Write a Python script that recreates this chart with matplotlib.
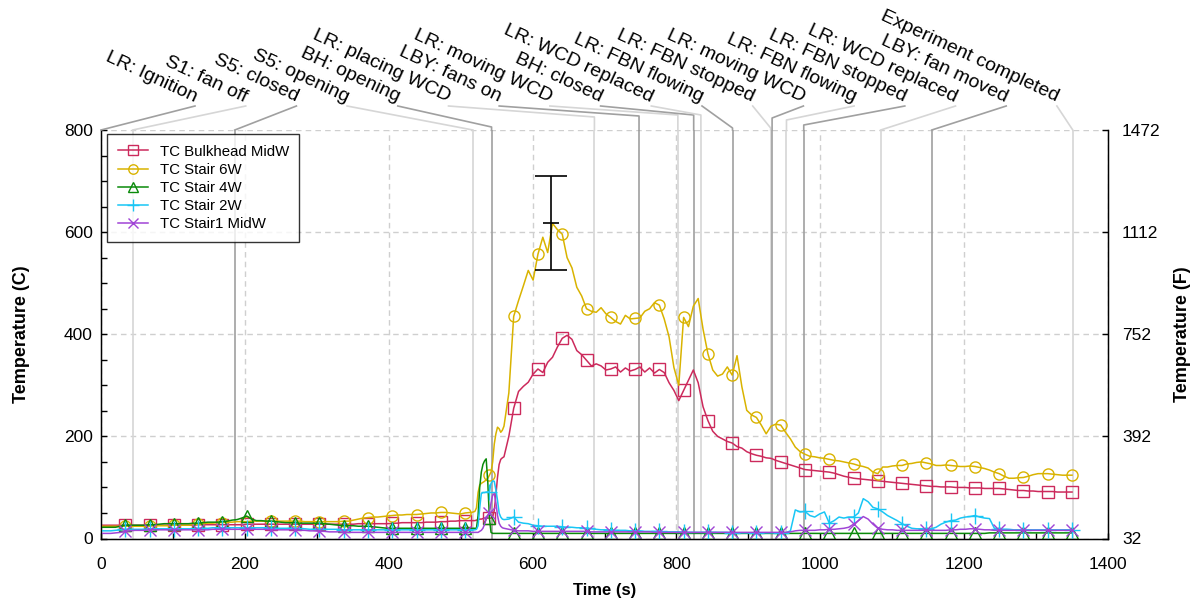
import numpy as np
import matplotlib
matplotlib.use('Agg')
import matplotlib.pyplot as plt
from matplotlib.lines import Line2D
from matplotlib.ticker import MultipleLocator

plt.rcParams['font.family'] = ['Liberation Sans', 'DejaVu Sans']

# ---------------- data ----------------
time_pre = np.arange(0, 507, 6.75)          # 0 .. 506.25 s
time_ign = np.arange(513, 558.1, 2.25)      # 513 .. 558 s
time_post = np.arange(560.25, 1350.1, 6.75)  # 560.25 .. 1350 s
time_s = np.concatenate([time_pre, time_ign, time_post])

bulkhead_midw = [
    26, 26, 26, 26, 26, 26, 26, 26, 26, 26,
    26, 26, 26, 26, 26, 26, 26, 26, 26, 26,
    27, 27, 27, 27, 27, 27, 27, 27, 27, 27,
    28, 28, 28, 28, 28, 28, 28, 28, 28, 28,
    28, 28, 28, 28, 28, 28, 28, 28, 28, 28,
    28, 28, 28, 29, 29, 29, 29, 29, 29, 29,
    30, 30, 31, 31, 31, 31, 31, 32, 32, 32,
    33, 33, 34, 34, 35, 35,
    35, 35, 35, 35, 36, 37, 38, 38, 39, 40, 40, 40, 40, 40, 42, 55, 85, 120, 145, 155, 158,
    160, 200, 255, 288, 298, 306, 322, 332, 325, 345,
    355, 375, 392, 398, 390, 368, 360, 349, 338, 342,
    338, 330, 332, 336, 326, 334, 328, 331, 336, 326,
    334, 324, 331, 325, 305, 290, 270, 290, 310, 330,
    305, 258, 231, 210, 200, 195, 190, 187, 180, 177,
    170, 166, 163, 161, 158, 157, 153, 150, 147, 144,
    141, 138, 135, 134, 133, 132, 131, 130, 128, 125,
    122, 120, 118, 117, 116, 115, 114, 113, 112, 111,
    110, 109, 108, 107, 106, 105, 104, 103, 102, 102,
    101, 101, 101, 100, 100, 100, 99, 99, 99, 98,
    98, 98, 98, 97, 96, 95, 94, 94, 93, 93,
    92, 92, 92, 92, 91, 91, 91, 91,
]

stair_6w = [
    24, 24, 24, 24, 24, 24, 24, 24, 24, 24,
    24, 25, 25, 25, 25, 26, 26, 26, 26, 27,
    28, 29, 30, 30, 31, 31, 32, 32, 33, 33,
    33, 34, 34, 34, 34, 34, 34, 34, 34, 34,
    34, 34, 33, 33, 33, 33, 33, 33, 33, 33,
    34, 34, 36, 38, 40, 41, 42, 42, 43, 44,
    45, 46, 46, 47, 47, 47, 48, 49, 50, 50,
    51, 51, 50, 49, 48, 50,
    51, 51, 52, 53, 60, 90, 105, 108, 110, 112, 115, 118, 124, 130, 150, 185, 205, 218, 215, 208, 212,
    220, 285, 435, 466, 495, 525, 506, 557, 590, 560,
    617, 605, 596, 550, 530, 492, 475, 450, 445, 443,
    452, 440, 433, 425, 420, 437, 430, 431, 432, 445,
    450, 462, 457, 430, 395, 335, 300, 433, 415, 455,
    470, 410, 362, 330, 318, 322, 336, 320, 358, 297,
    251, 242, 237, 222, 205, 220, 224, 222, 208, 195,
    179, 170, 165, 161, 160, 158, 157, 155, 153, 152,
    150, 148, 146, 143, 141, 138, 130, 127, 140, 140,
    142, 143, 143, 146, 147, 149, 150, 148, 146, 143,
    143, 144, 143, 142, 141, 141, 142, 141, 139, 137,
    134, 130, 127, 122, 118, 118, 119, 119.5, 122, 125,
    127, 127, 127, 126, 125, 124, 124, 124,
]

stair_4w = [
    22, 22, 22, 22, 24, 26, 26, 26, 26, 26,
    27, 27, 28, 29, 29, 29, 29, 29, 29, 30,
    30, 31, 32, 32, 32, 33, 34, 36, 37, 40,
    44, 38, 35, 35, 34, 34, 33, 32, 31, 31,
    31, 30, 30, 30, 30, 30, 29, 28, 27, 26,
    25, 25, 25, 24, 24, 24, 23, 22, 21, 20,
    20, 20, 20, 20, 20, 20, 20, 20, 20, 20,
    20, 20, 20, 20, 20, 20,
    20, 20, 20, 20, 20, 45, 100, 130, 145, 152, 156, 110, 40, 12, 10, 10, 10, 10, 10, 10, 10,
    10, 10, 10, 10, 10, 10, 10, 10, 10, 10,
    10, 10, 10, 10, 10, 10, 10, 10, 10, 10,
    10, 10, 10, 10, 10, 10, 10, 10, 10, 10,
    10, 10, 10, 10, 10, 10, 10, 10, 10, 10,
    10, 10, 10, 10, 10, 10, 10, 10, 10, 10,
    10, 10, 10, 10, 10, 10, 10, 10, 10, 10,
    10, 10, 10, 10, 10, 10, 10, 10, 10, 10,
    10, 10, 10, 10, 10, 10, 10, 10, 10, 10,
    10, 10, 10, 10, 10, 10, 10, 10, 10, 10,
    10, 10, 10, 10, 10, 10, 10, 10, 10, 10,
    11, 11, 11, 11, 11, 11, 11, 11, 11, 11,
    11, 11, 11, 11, 11, 11, 11, 11,
]

stair_2w = [
    15, 15, 15, 16, 17, 18, 18, 18, 18, 18,
    19, 19, 19, 19, 19, 19, 19, 19, 19, 19,
    20, 20, 20, 21, 21, 21, 21, 21, 21, 21,
    21, 21, 21, 21, 21, 20, 20, 20, 20, 20,
    20, 19, 19, 18, 18, 18, 18, 18, 18, 18,
    17, 17, 17, 17, 17, 17, 17, 17, 17, 17,
    17, 17, 17, 17, 17, 17, 17, 17, 17, 17,
    17, 17, 17, 17, 17, 17,
    17, 17, 17, 17, 18, 25, 60, 88, 90, 90, 91, 91, 92, 108, 113, 112, 95, 75, 50, 42, 38,
    37, 38, 42, 32, 30, 29, 26, 25, 24, 24,
    24, 24, 23, 22, 22, 21, 21, 20, 19, 18,
    17, 17, 17, 16, 16, 16, 15, 15, 15, 14,
    14, 14, 14, 13, 13, 13, 13, 12, 12, 12,
    12, 12, 12, 12, 12, 12, 12, 11, 11, 11,
    11, 11, 11, 11, 11, 11, 11, 11, 11, 15,
    56, 52, 53, 45, 42, 48, 52, 30, 35, 42,
    40, 42, 42, 50, 78, 72, 61, 58, 52, 45,
    40, 35, 29, 24, 20, 19, 19, 19, 19, 22,
    28, 32, 35, 36, 40, 42, 43, 45, 42, 40,
    39, 20, 19, 18, 18, 17, 17, 17, 17, 17,
    17, 17, 17, 17, 17, 17, 17, 17,
]

stair1_midw = [
    10, 10, 10, 11, 12, 14, 15, 16, 16, 16,
    17, 17, 17, 17, 17, 17, 17, 17, 17, 17,
    17, 17, 17, 18, 18, 18, 18, 18, 18, 18,
    18, 18, 18, 18, 18, 17, 17, 17, 17, 17,
    17, 16, 16, 15, 15, 14, 14, 13, 13, 13,
    12, 12, 12, 12, 12, 12, 12, 12, 12, 12,
    12, 12, 12, 12, 12, 12, 12, 12, 12, 12,
    12, 12, 12, 12, 12, 12,
    12, 12, 12, 12, 12, 12, 14, 16, 20, 28, 38, 45, 50, 70, 85, 88, 70, 45, 30, 24, 21,
    20, 18, 16, 15, 15, 15, 14, 14, 14, 14,
    14, 14, 14, 14, 14, 14, 14, 14, 13, 13,
    13, 13, 13, 13, 13, 13, 13, 13, 13, 13,
    13, 12, 12, 12, 12, 12, 12, 12, 12, 12,
    12, 12, 12, 12, 12, 12, 12, 12, 12, 12,
    12, 12, 12, 12, 12, 12, 12, 12, 12, 13,
    15, 16, 16, 16, 16, 17, 17, 18, 18, 19,
    20, 22, 28, 35, 43, 38, 28, 20, 18, 17,
    17, 16, 16, 16, 16, 16, 16, 16, 16, 16,
    16, 16, 17, 17, 18, 18, 19, 19, 18, 17,
    17, 16, 16, 16, 16, 16, 16, 16, 16, 16,
    16, 16, 16, 16, 16, 16, 16, 16,
]

series_labels = ['TC Bulkhead MidW', 'TC Stair 6W', 'TC Stair 4W', 'TC Stair 2W', 'TC Stair1 MidW']

event_times = [0, 44, 186, 517, 543, 686, 748, 802, 824, 834, 878, 931, 933, 953, 977, 1084, 1155, 1351]
event_labels = ['LR: Ignition', 'S1: fan off', 'S5: closed', 'S5: opening', 'BH: opening',
                'LR: placing WCD', 'LBY: fans on', 'LR: moving WCD', 'BH: closed',
                'LR: WCD replaced', 'LR: FBN flowing', 'LR: FBN stopped', 'LR: moving WCD',
                'LR: FBN flowing', 'LR: FBN stopped', 'LR: WCD replaced', 'LBY: fan moved',
                'Experiment completed']

err_time = [626]
err_value = [617]
err_delta = [92]

c_ticks = [0, 200, 400, 600, 800]
f_ticks = [32, 392, 752, 1112, 1472]

# ---------------- style ----------------
colors = ['#cc2a5c', '#d9b300', '#0a8a0a', '#19c6f5', '#a044d6']
markers = ['s', 'o', '^', '+', 'x']
msizes = [8, 8, 8.5, 11, 8]

W, H = 1199, 604
fig = plt.figure(figsize=(W / 100, H / 100), dpi=100)
ax_left, ax_right, ax_top, ax_bot = 101, 1108, 130, 538.5
ax = fig.add_axes([ax_left / W, 1 - ax_bot / H, (ax_right - ax_left) / W, (ax_bot - ax_top) / H])

ax.set_xlim(0, 1400)
ax.set_ylim(0, 800)
ax.set_xticks([0, 200, 400, 600, 800, 1000, 1200, 1400])
ax.set_yticks(c_ticks)
ax.xaxis.set_minor_locator(MultipleLocator(100))
ax.yaxis.set_minor_locator(MultipleLocator(50))
ax.grid(True, which='major', linestyle=(0, (4, 3)), color='#cfcfcf', lw=1.0, zorder=0)
ax.set_axisbelow(True)
ax.tick_params(which='both', direction='in', length=4, width=1, top=False, right=False,
               labelsize=12.5, colors='black')
ax.tick_params(axis='x', which='major', pad=13)
ax.tick_params(axis='y', which='major', pad=6)
ax.spines['top'].set_visible(False)
for s in ['left', 'bottom', 'right']:
    ax.spines[s].set_linewidth(1.0)

# event lines
dark, light = '#a0a0a0', '#d6d6d6'
for i, tev in enumerate(event_times):
    col = dark if i % 2 == 0 else light
    ax.axvline(tev, color=col, lw=1.2, zorder=1)

series = [bulkhead_midw, stair_6w, stair_4w, stair_2w, stair1_midw]
mark_idx = [i for i, tt in enumerate(time_s)
            if tt > 0 and abs(tt / 33.75 - round(tt / 33.75)) < 1e-9]
for vals, lab, c, m, ms in zip(series, series_labels, colors, markers, msizes):
    assert len(vals) == len(time_s), (lab, len(vals), len(time_s))
    ax.plot(time_s, vals, color=c, lw=1.1, marker=m, ms=ms, mfc='none', mec=c, mew=1.0,
            markevery=mark_idx, label=lab, zorder=3)

ax.errorbar(err_time, err_value, yerr=err_delta, fmt='none', ecolor='black', elinewidth=1.2,
            capsize=11.5, capthick=1.2, zorder=5)
ax.plot(err_time, err_value, marker='_', ms=12, mew=1.2, color='black', ls='none', zorder=5)

leg = ax.legend(loc='upper left', bbox_to_anchor=(0.006, 0.99), borderaxespad=0,
                fontsize=10.8, frameon=True, fancybox=False, edgecolor='black',
                handlelength=2.0, handletextpad=0.8, labelspacing=0.28, borderpad=0.7,
                markerscale=0.85)
leg.get_frame().set_linewidth(1.0)

ax.set_xlabel('Time (s)', fontsize=12, fontweight='bold', labelpad=8)
ax.set_ylabel('Temperature (C)', fontsize=13, fontweight='bold', labelpad=24)

ax2 = ax.twinx()
ax2.set_ylim(32, 1472)
ax2.set_yticks(f_ticks)
ax2.tick_params(direction='in', length=4, width=1, labelsize=12.5, pad=10)
ax2.spines['top'].set_visible(False)
ax2.set_ylabel('Temperature (F)', fontsize=13, fontweight='bold', labelpad=10)

# event annotations above the axes
def fx(px):
    return px / W

def fy(py):
    return 1 - py / H

join_py = [130, 130, 130, 130, 127, 117, 116, 115, 115, 115, 128, 128, 118, 120, 125, 130, 130, 130]
for i, (tev, lab) in enumerate(zip(event_times, event_labels)):
    col = dark if i % 2 == 0 else light
    xp = ax.transData.transform((tev, 0))[0]
    xe = 195 + 50.7 * i
    yj = join_py[i]
    fig.add_artist(Line2D([fx(xe), fx(xp), fx(xp)], [fy(106), fy(yj), fy(ax_top)],
                          transform=fig.transFigure, color=col, lw=1.2))
    fig.text(fx(xe - 1), fy(102), lab, rotation=-25, rotation_mode='anchor',
             ha='right', va='baseline', fontsize=14)

fig.savefig('out.png', dpi=100)
